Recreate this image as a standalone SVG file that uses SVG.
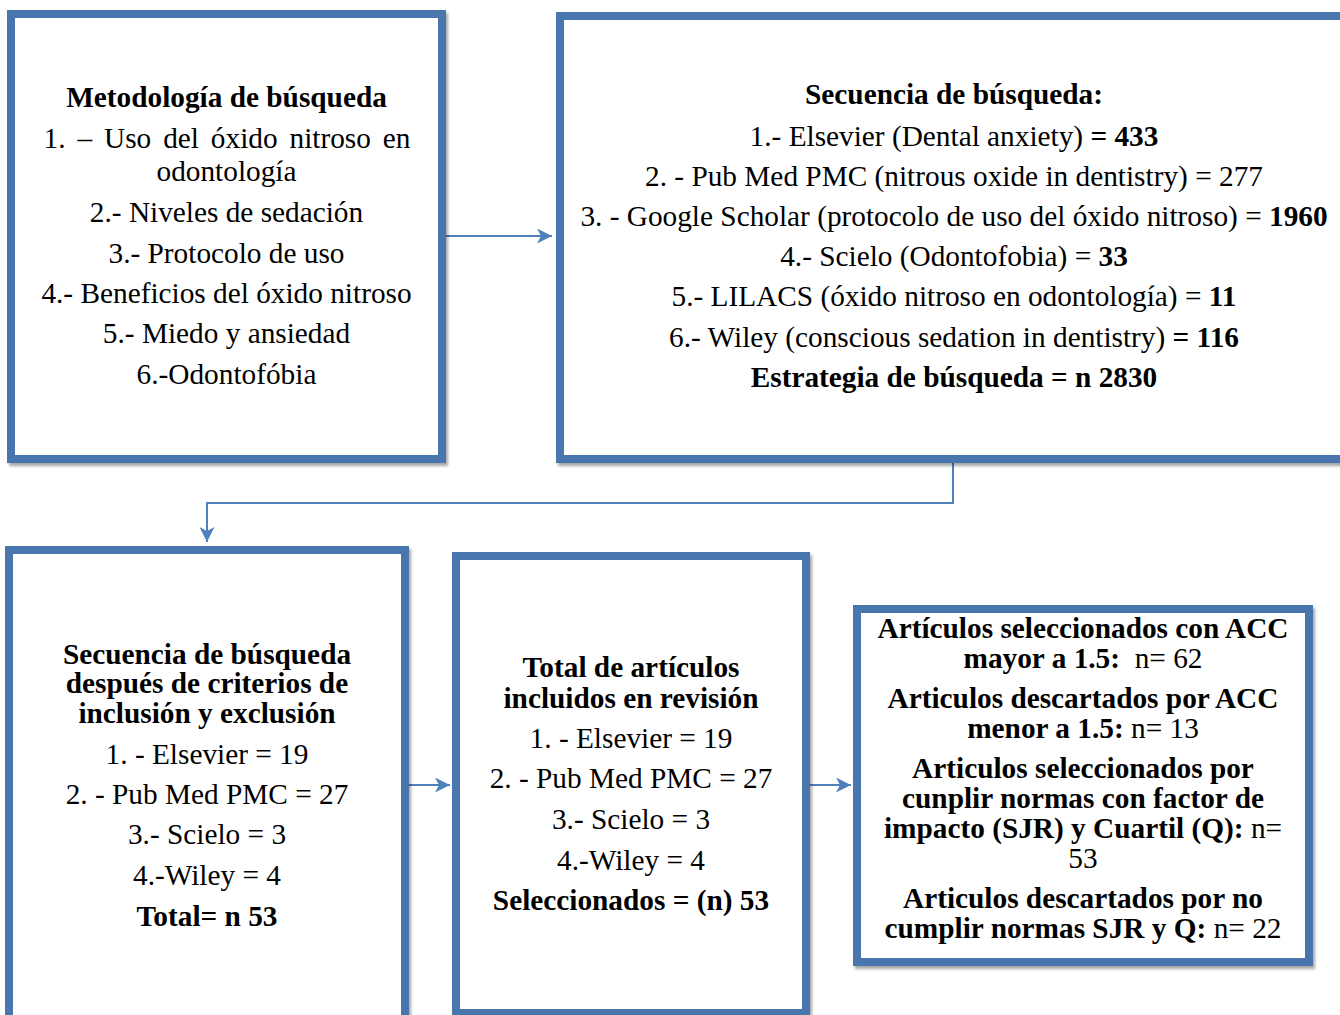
<svg xmlns="http://www.w3.org/2000/svg" width="1340" height="1015" viewBox="0 0 1340 1015">
<defs>
<style>
.box{fill:#ffffff;stroke:#4A76AD;stroke-width:8;filter:url(#sh)}
.t{font-family:"Liberation Serif","Times New Roman",serif;font-size:29.3px;fill:#000;text-anchor:middle;white-space:pre}
.b{font-weight:bold}
.c{fill:none;stroke:#4F81BD;stroke-width:2;marker-end:url(#ah)}
</style>
<filter id="sh" x="-5%" y="-5%" width="110%" height="110%">
<feDropShadow dx="2" dy="3" stdDeviation="1.5" flood-color="#000" flood-opacity="0.35"/>
</filter>
<marker id="ah" markerUnits="userSpaceOnUse" markerWidth="16" markerHeight="16" refX="15" refY="7.5" orient="auto">
<path d="M0,0 L15,7.5 L0,15 L4,7.5 z" fill="#4F81BD"/>
</marker>
</defs>

<g id="connectors">
<path class="c" d="M446,236 L552,236"/>
<path class="c" d="M953,463 L953,503 L207,503 L207,542"/>
<path class="c" d="M409,785 L450,785"/>
<path class="c" d="M810,785 L851,785"/>
</g>

<g id="node-metodologia">
<rect class="box" x="11" y="14" width="431" height="445"/>
<text class="t b" x="226.5" y="107">Metodología de búsqueda</text>
<text class="t" x="227" y="148" style="word-spacing:4.6px">1. – Uso del óxido nitroso en</text>
<text class="t" x="226.5" y="181">odontología</text>
<text class="t" x="226.5" y="222">2.- Niveles de sedación</text>
<text class="t" x="226.5" y="263">3.- Protocolo de uso</text>
<text class="t" x="226.5" y="303">4.- Beneficios del óxido nitroso</text>
<text class="t" x="226.5" y="343">5.- Miedo y ansiedad</text>
<text class="t" x="226.5" y="384">6.-Odontofóbia</text>
</g>

<g id="node-secuencia">
<rect class="box" x="560" y="16" width="800" height="443"/>
<text class="t b" x="954" y="104">Secuencia de búsqueda:</text>
<text class="t" x="954" y="145.5">1.- Elsevier (Dental anxiety) <tspan class="b">= 433</tspan></text>
<text class="t" x="954" y="186">2. - Pub Med PMC (nitrous oxide in dentistry) = 277</text>
<text class="t" x="954" y="226">3. - Google Scholar (protocolo de uso del óxido nitroso) = <tspan class="b">1960</tspan></text>
<text class="t" x="954" y="266">4.- Scielo (Odontofobia) = <tspan class="b">33</tspan></text>
<text class="t" x="954" y="306">5.- LILACS (óxido nitroso en odontología) = <tspan class="b">11</tspan></text>
<text class="t" x="954" y="347">6.- Wiley (conscious sedation in dentistry) <tspan class="b">= 116</tspan></text>
<text class="t b" x="954" y="387">Estrategia de búsqueda = n 2830</text>
</g>

<g id="node-criterios">
<rect class="box" x="9" y="550" width="396" height="520"/>
<text class="t b" x="207" y="663.5">Secuencia de búsqueda</text>
<text class="t b" x="207" y="693">después de criterios de</text>
<text class="t b" x="207" y="723">inclusión y exclusión</text>
<text class="t" x="207" y="764">1. - Elsevier = 19</text>
<text class="t" x="207" y="804">2. - Pub Med PMC = 27</text>
<text class="t" x="207" y="844">3.- Scielo = 3</text>
<text class="t" x="207" y="885">4.-Wiley = 4</text>
<text class="t b" x="207" y="925.5">Total= n 53</text>
</g>

<g id="node-total">
<rect class="box" x="456" y="556" width="350" height="457"/>
<text class="t b" x="631" y="677">Total de artículos</text>
<text class="t b" x="631" y="708">incluidos en revisión</text>
<text class="t" x="631" y="748">1. - Elsevier = 19</text>
<text class="t" x="631" y="788">2. - Pub Med PMC = 27</text>
<text class="t" x="631" y="829">3.- Scielo = 3</text>
<text class="t" x="631" y="870">4.-Wiley = 4</text>
<text class="t b" x="631" y="910">Seleccionados = (n) 53</text>
</g>

<g id="node-acc">
<rect class="box" x="857" y="609" width="452" height="353"/>
<text class="t b" x="1083" y="638">Artículos seleccionados con ACC</text>
<text class="t" x="1083" y="668"><tspan class="b">mayor a 1.5:</tspan>  n= 62</text>
<text class="t b" x="1083" y="707.5">Articulos descartados por ACC</text>
<text class="t" x="1083" y="737.5"><tspan class="b">menor a 1.5:</tspan> n= 13</text>
<text class="t b" x="1083" y="777.5">Articulos seleccionados por</text>
<text class="t b" x="1083" y="807.5">cunplir normas con factor de</text>
<text class="t" x="1083" y="838"><tspan class="b">impacto (SJR) y Cuartil (Q):</tspan> n=</text>
<text class="t" x="1083" y="867.5">53</text>
<text class="t b" x="1083" y="908">Articulos descartados por no</text>
<text class="t" x="1083" y="938"><tspan class="b">cumplir normas SJR y Q:</tspan> n= 22</text>
</g>
</svg>
